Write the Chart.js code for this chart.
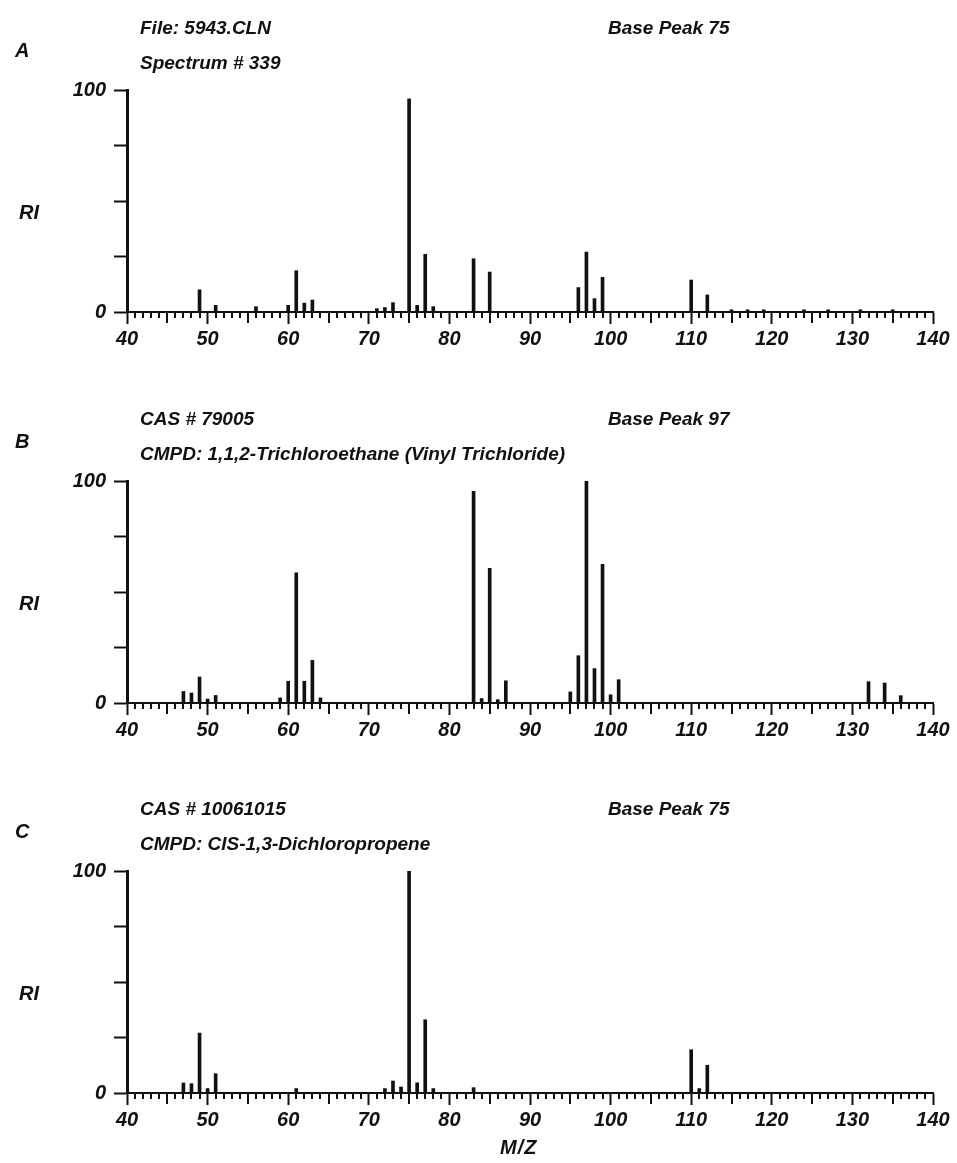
<!DOCTYPE html>
<html>
<head>
<meta charset="utf-8">
<script src="https://cdn.jsdelivr.net/npm/chart.js@4/dist/chart.umd.min.js"></script>
<style>
  body { margin: 0; width: 957px; height: 1163px; overflow: hidden; background: #fff; }
  .panel { position: absolute; left: 0; width: 957px; height: 392px; }
  .panel canvas { position: absolute; left: 0; top: 0; }
  .txt { position: absolute; font-family: "Liberation Sans", Arial, sans-serif; font-style: italic; font-weight: bold;
         font-size: 19px; color: #111; white-space: nowrap; line-height: 22px; }
  .big { font-size: 20px; }
</style>
</head>
<body>
<div class="panel" id="panelA" style="top:0px">
  <canvas id="chartA" width="957" height="392"></canvas>
</div>
<div class="panel" id="panelB" style="top:391px">
  <canvas id="chartB" width="957" height="392"></canvas>
</div>
<div class="panel" id="panelC" style="top:781px">
  <canvas id="chartC" width="957" height="392"></canvas>
</div>
<div class="txt big" style="left:500px; top:1136px; letter-spacing:1px">M/Z</div>

<script>
// Spectrum A: File 5943.CLN, spectrum # 339
const massA = [49, 51, 56, 60, 61, 62, 63, 71, 72, 73, 75, 76, 77, 78, 83, 85, 96, 97, 98, 99, 110, 112, 115, 117, 119, 124, 127, 131, 135];
const riA   = [10, 3, 2.4, 3, 18.6, 4, 5.4, 1.5, 2, 4.2, 96, 3, 26, 2.4, 24, 18, 11, 27, 6, 15.6, 14.4, 7.7, 1, 1, 1, 1, 1, 1, 1];

// Spectrum B: 1,1,2-Trichloroethane
const massB = [47, 48, 49, 50, 51, 59, 60, 61, 62, 63, 64, 83, 84, 85, 86, 87, 95, 96, 97, 98, 99, 100, 101, 132, 134, 136];
const riB   = [5.2, 4.5, 11.7, 1.8, 3.4, 2.3, 9.8, 58.6, 9.8, 19.2, 2.3, 95.4, 2, 60.7, 1.5, 10, 5, 21.3, 100, 15.5, 62.5, 3.7, 10.5, 9.6, 9, 3.3];

// Spectrum C: CIS-1,3-Dichloropropene
const massC = [47, 48, 49, 50, 51, 61, 72, 73, 74, 75, 76, 77, 78, 83, 110, 111, 112];
const riC   = [4.5, 4.2, 27, 2, 8.7, 2, 2, 5.4, 2.7, 100, 4.6, 33, 2, 2.4, 19.5, 2, 12.5];

const xLabels = [40, 50, 60, 70, 80, 90, 100, 110, 120, 130, 140];
const yLabels = [0, 100];

const panels = [
  { id: 'A', chart: 'chartA', mass: massA, ri: riA,
    line1: 'File: 5943.CLN', line2: 'Spectrum # 339', base: 'Base Peak 75' },
  { id: 'B', chart: 'chartB', mass: massB, ri: riB,
    line1: 'CAS # 79005', line2: 'CMPD: 1,1,2-Trichloroethane (Vinyl Trichloride)', base: 'Base Peak 97' },
  { id: 'C', chart: 'chartC', mass: massC, ri: riC,
    line1: 'CAS # 10061015', line2: 'CMPD: CIS-1,3-Dichloropropene', base: 'Base Peak 75' }
];

const ink = '#111';
const fontFam = '"Liberation Sans", Arial, sans-serif';

// small ticks on every unit of m/z, a bit longer every 5
const minorTicks = {
  id: 'minorTicks',
  afterDraw(chart) {
    const x = chart.scales.x;
    const ctx = chart.ctx;
    const y0 = chart.chartArea.bottom;
    ctx.save();
    ctx.strokeStyle = ink;
    ctx.lineWidth = 2;
    for (let v = 40; v <= 140; v++) {
      if (v % 10 === 0) continue;
      const len = v % 5 === 0 ? 11 : 6;
      const px = Math.round(x.getPixelForValue(v));
      ctx.beginPath();
      ctx.moveTo(px, y0);
      ctx.lineTo(px, y0 + len);
      ctx.stroke();
    }
    ctx.restore();
  }
};

function addText(panel, cls, text, left, top) {
  const d = document.createElement('div');
  d.className = 'txt ' + cls;
  d.style.left = left + 'px';
  d.style.top = top + 'px';
  d.textContent = text;
  panel.appendChild(d);
}

panels.forEach(p => {
  const box = document.getElementById('panel' + p.id);
  addText(box, '', p.line1, 140, 17);
  addText(box, '', p.line2, 140, 52);
  addText(box, '', p.base, 608, 17);
  addText(box, 'big', p.id, 15, 39);
  addText(box, 'big', 'RI', 19, 201);

  new Chart(document.getElementById(p.chart), {
    type: 'bar',
    data: {
      datasets: [{
        data: p.mass.map((m, i) => ({ x: m, y: p.ri[i] })),
        backgroundColor: ink,
        barThickness: 3
      }]
    },
    options: {
      responsive: false,
      animation: false,
      layout: { padding: { top: 90, right: 24, left: 0, bottom: 0 } },
      plugins: { legend: { display: false }, tooltip: { enabled: false } },
      scales: {
        x: {
          type: 'linear',
          min: 40,
          max: 140,
          offset: false,
          afterBuildTicks: s => { s.ticks = xLabels.map(v => ({ value: v })); },
          ticks: {
            autoSkip: false,
            maxRotation: 0,
            padding: 3,
            color: ink,
            font: { family: fontFam, size: 20, style: 'italic', weight: 'bold' }
          },
          grid: { drawOnChartArea: false, offset: false, tickLength: 12, tickWidth: 2, tickColor: ink },
          border: { color: ink, width: 2 },
          afterFit: s => { s.height = 80; }
        },
        y: {
          min: 0,
          max: 100,
          ticks: {
            stepSize: 25,
            padding: 8,
            color: ink,
            font: { family: fontFam, size: 20, style: 'italic', weight: 'bold' },
            callback: v => yLabels.includes(v) ? String(v) : ''
          },
          grid: { drawOnChartArea: false, tickLength: 13, tickWidth: 2, tickColor: ink },
          border: { color: ink, width: 3 },
          afterFit: s => { s.width = 127; }
        }
      }
    },
    plugins: [minorTicks]
  });
});
</script>
</body>
</html>
